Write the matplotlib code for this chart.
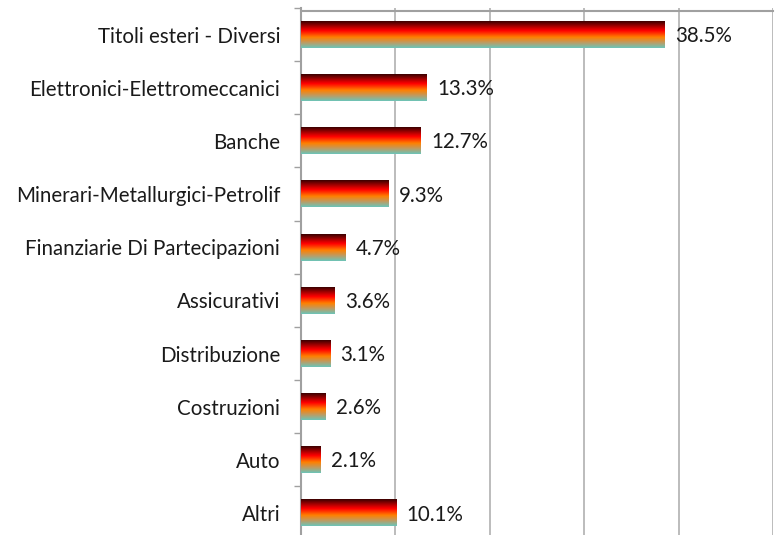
import numpy as np
import matplotlib.pyplot as plt
from matplotlib.colors import LinearSegmentedColormap

# sector weights (%)
sectors = ['Titoli esteri - Diversi', 'Elettronici-Elettromeccanici', 'Banche',
           'Minerari-Metallurgici-Petrolif', 'Finanziarie Di Partecipazioni',
           'Assicurativi', 'Distribuzione', 'Costruzioni', 'Auto', 'Altri']
weights = [38.5, 13.3, 12.7, 9.3, 4.7, 3.6, 3.1, 2.6, 2.1, 10.1]

plt.rcParams['font.family'] = ['Lato', 'DejaVu Sans']

fig = plt.figure(figsize=(7.79, 5.35), dpi=100)
ax = fig.add_axes([301 / 779, -4.6 / 535, 472 / 779, 531.6 / 535])

# gradient from top (dark maroon) to bottom (teal)
grad = LinearSegmentedColormap.from_list('bar', [
    (0.0, '#3c0000'), (0.2, '#b00000'), (0.35, '#ff0000'),
    (0.6, '#ff8000'), (0.8, '#c09a60'), (1.0, '#6cc4b8')])
g = np.linspace(0, 1, 64).reshape(-1, 1)

h = 0.5
for i, (s, w) in enumerate(zip(sectors, weights)):
    ax.imshow(g, cmap=grad, aspect='auto', interpolation='bilinear',
              extent=(0, w, i + h / 2, i - h / 2), zorder=3)
    ax.text(w + 1.1, i + 0.03, f'{w:.1f}%', va='center', ha='left',
            fontsize=14.8, color='#1a1a1a', zorder=4)

ax.set_xlim(0, 50)
ax.set_ylim(len(sectors) - 0.5, -0.5)
ax.set_xticks([0, 10, 20, 30, 40, 50])
ax.set_xticklabels([])
ax.tick_params(axis='x', length=0)
ax.grid(axis='x', color='#b0b0b0', linewidth=1.2, zorder=0)

ax.set_yticks(range(len(sectors)))
ax.set_yticklabels(sectors, fontsize=14.8, color='#1a1a1a')
ax.tick_params(axis='y', which='major', length=0, pad=15)
ax.set_yticks(np.arange(-0.5, len(sectors), 1), minor=True)
ax.tick_params(axis='y', which='minor', length=5, color='#a0a0a0', width=1)

for sp in ['right', 'bottom', 'top']:
    ax.spines[sp].set_visible(False)
ax.spines['left'].set_color('#a0a0a0')
ax.spines['left'].set_linewidth(1.5)
# top border line
ax.axhline(-0.45, color='#a0a0a0', linewidth=1.5, clip_on=False, zorder=5)

fig.savefig('out.png', dpi=100)
